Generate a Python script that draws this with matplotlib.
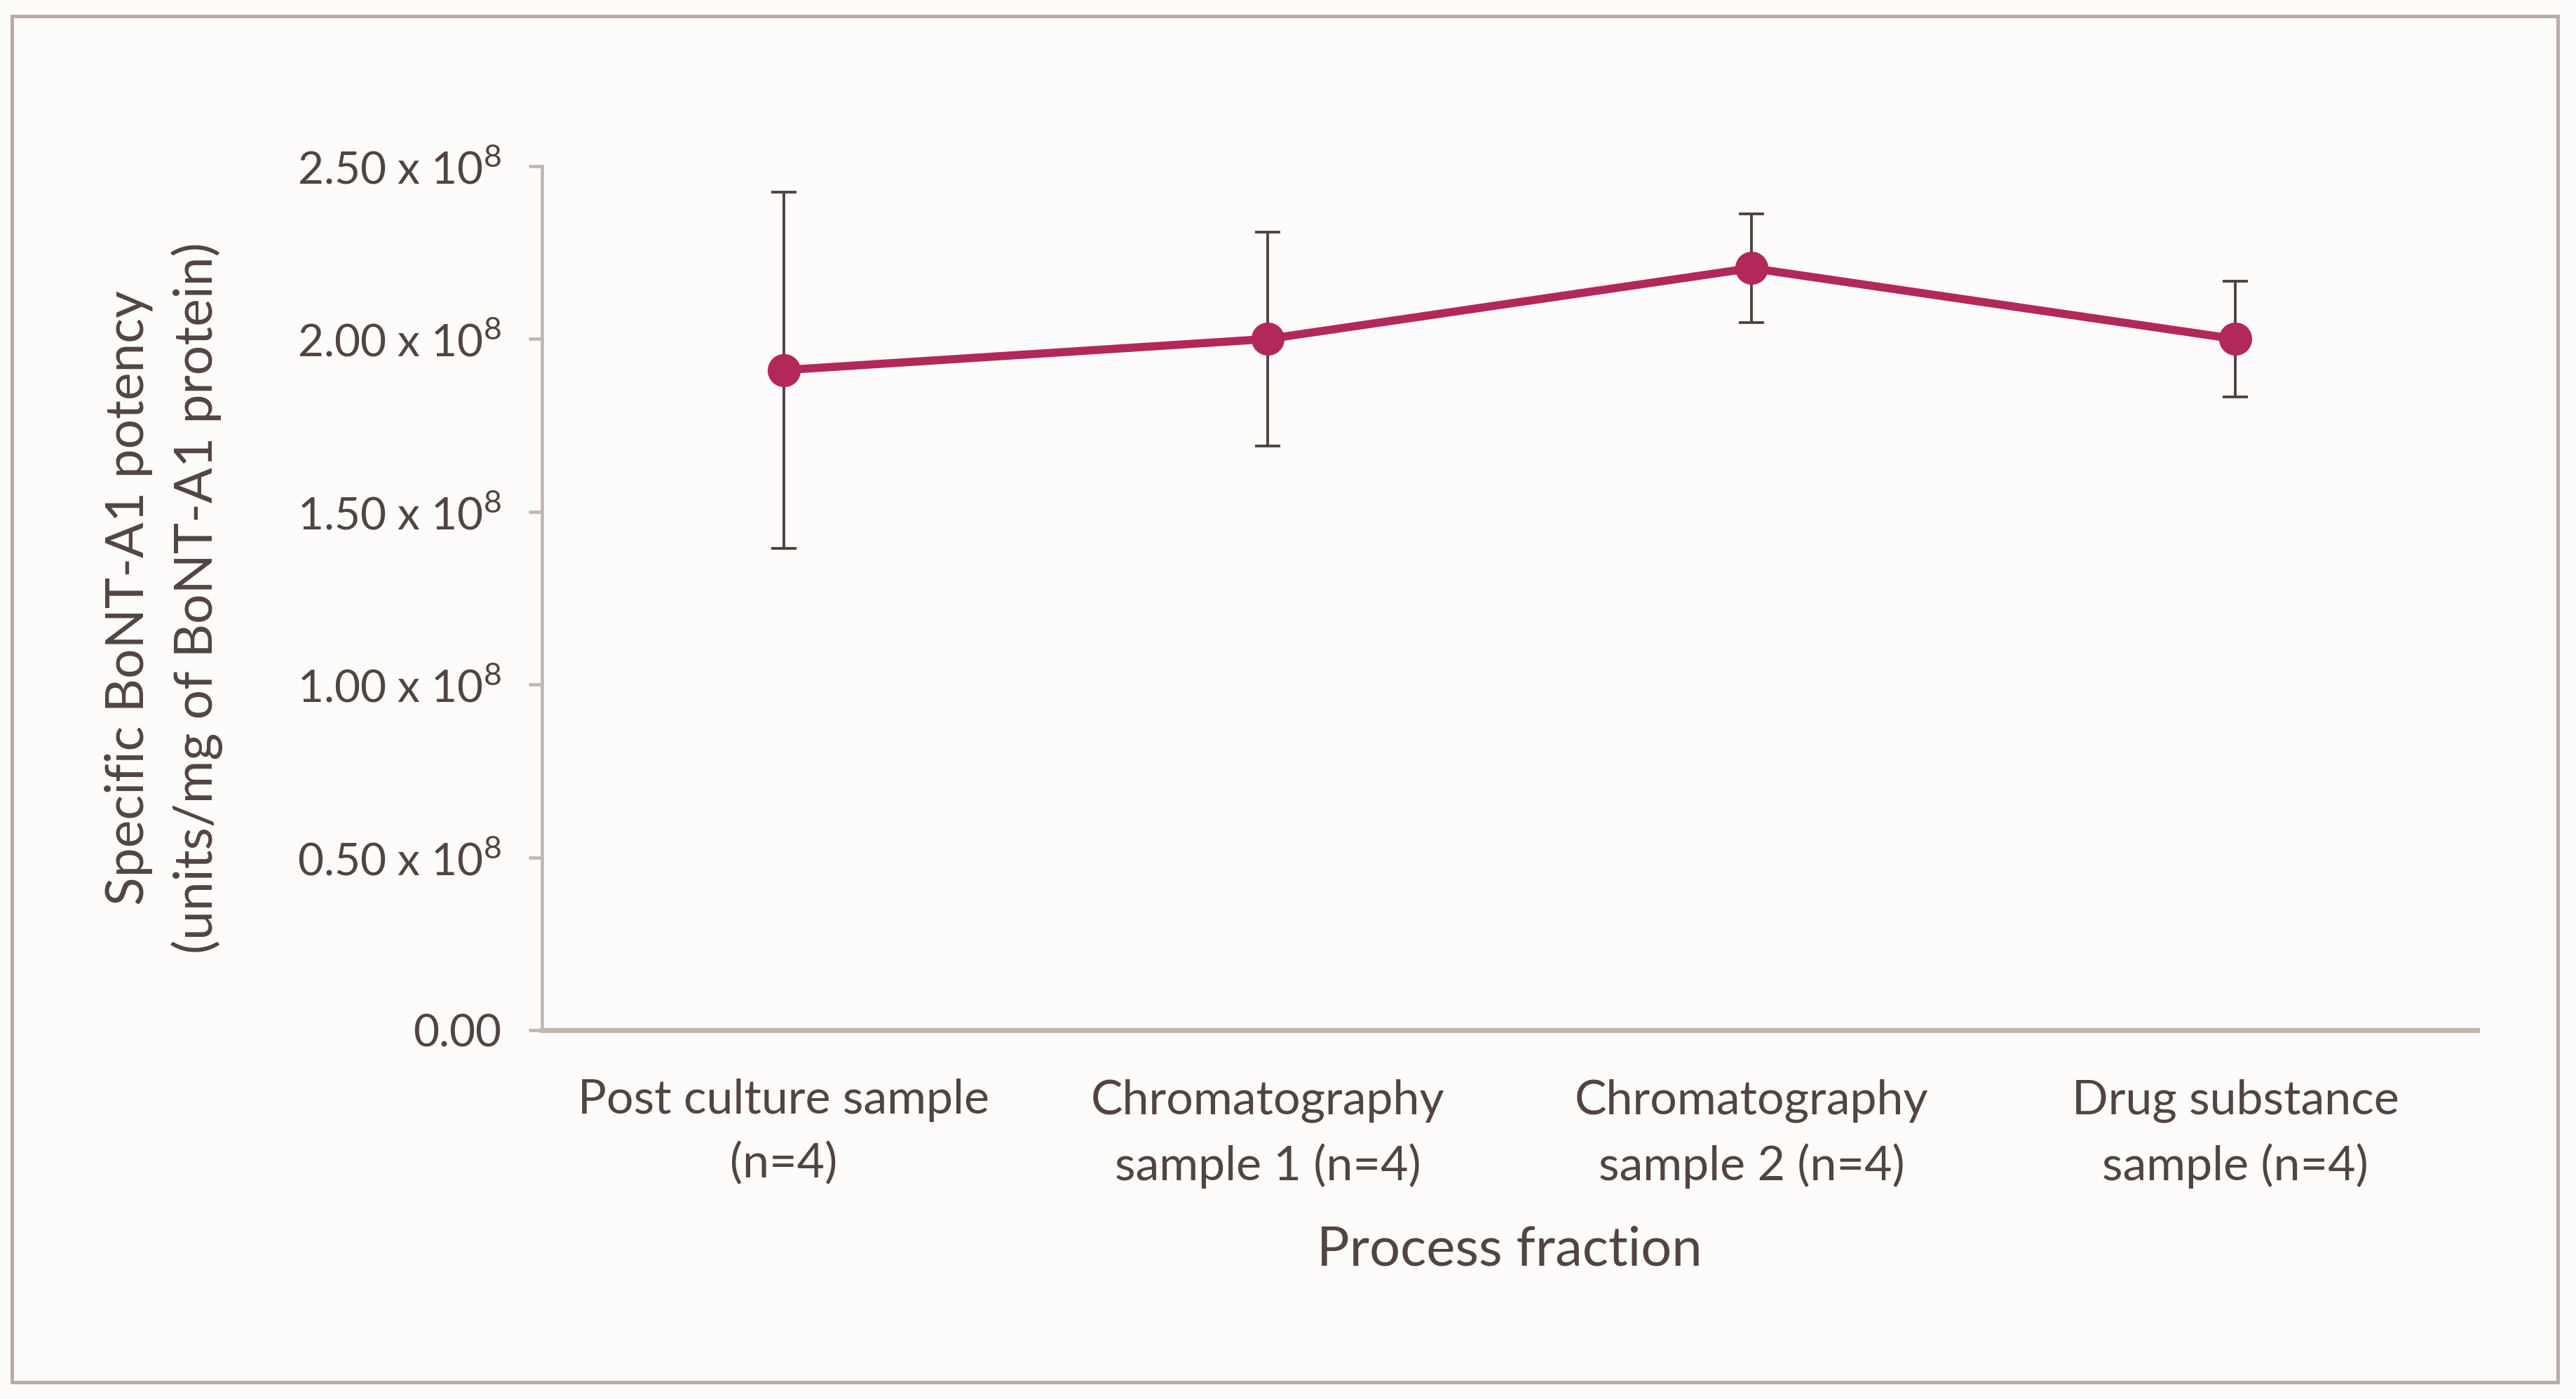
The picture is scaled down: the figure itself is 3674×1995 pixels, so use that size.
import numpy as np
import matplotlib
matplotlib.use('Agg')
import matplotlib.pyplot as plt
from matplotlib.patches import Rectangle

# datos
categorias = ['Post culture sample\n(n=4)', 'Chromatography\nsample 1 (n=4)',
              'Chromatography\nsample 2 (n=4)', 'Drug substance\nsample (n=4)']
potencia = [1.91e8, 2.00e8, 2.205e8, 2.00e8]
error = [0.515e8, 0.31e8, 0.157e8, 0.167e8]
yticks = [0, 0.5e8, 1.0e8, 1.5e8, 2.0e8, 2.5e8]
ytick_labels = ['0.00', r'0.50 x 10$^{8}$', r'1.00 x 10$^{8}$', r'1.50 x 10$^{8}$',
                r'2.00 x 10$^{8}$', r'2.50 x 10$^{8}$']

texto = '#504542'
eje = '#c3b6b0'
linea = '#b3285a'

plt.rcParams['font.family'] = ['Lato', 'DejaVu Sans']
plt.rcParams['mathtext.fontset'] = 'custom'
plt.rcParams['mathtext.rm'] = 'Lato'
plt.rcParams['mathtext.it'] = 'Lato'
plt.rcParams['mathtext.bf'] = 'Lato'

fig = plt.figure(figsize=(18.37, 9.975), dpi=200, facecolor='#fefcfb')
fig.patches.append(Rectangle((0.0045, 0.012), 0.9885, 0.9765, transform=fig.transFigure,
                             fill=False, edgecolor='#b9aca6', linewidth=1.8))
ax = fig.add_axes([0.2104, 0.2637, 0.7512, 0.6175])
ax.set_facecolor('none')

x = np.arange(len(categorias))
ax.errorbar(x, potencia, yerr=error, fmt='none', ecolor='#4d4340', elinewidth=1.4,
            capsize=6.5, capthick=1.4, zorder=2)
ax.plot(x, potencia, color=linea, linewidth=4.2, marker='o', markersize=16, zorder=3)

ax.set_xlim(-0.5, 3.5)
ax.set_ylim(0, 2.5e8)
ax.set_yticks(yticks)
ax.set_yticklabels(ytick_labels)
ax.set_xticks(x)
ax.set_xticklabels(categorias, linespacing=1.55)

for s in ['top', 'right']:
    ax.spines[s].set_visible(False)
ax.spines['left'].set_color(eje)
ax.spines['left'].set_linewidth(1.7)
ax.spines['bottom'].set_color(eje)
ax.spines['bottom'].set_linewidth(2.6)

ax.tick_params(axis='y', colors=eje, length=7, width=1.7, pad=14, labelsize=23, labelcolor=texto)
ax.tick_params(axis='x', length=0, pad=25, labelsize=24.5, labelcolor=texto)

ax.set_xlabel('Process fraction', fontsize=28, color=texto, labelpad=19)
ax.set_ylabel('Specific BoNT-A1 potency\n(units/mg of BoNT-A1 protein)', fontsize=27,
              color=texto, labelpad=38, linespacing=1.45)

fig.savefig('out.png', dpi=200, facecolor=fig.get_facecolor())
